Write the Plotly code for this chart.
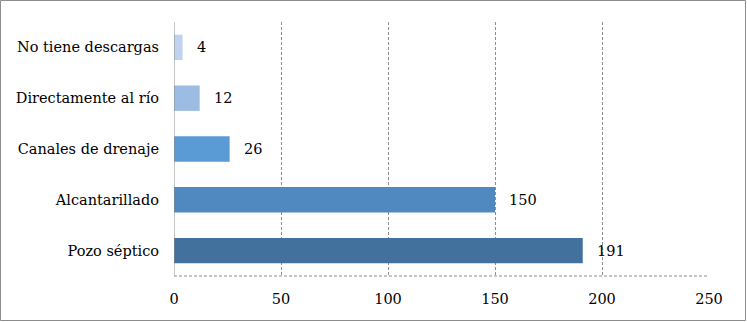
import plotly.graph_objects as go

categories = ["Pozo séptico", "Alcantarillado", "Canales de drenaje", "Directamente al río", "No tiene descargas"]
values = [191, 150, 26, 12, 4]
bar_colors = ["#41719C", "#4F89BF", "#5B9BD5", "#9DBCE3", "#BFD3EE"]
x_ticks = [0, 50, 100, 150, 200, 250]

W, H = 747, 322
ML, MR, MT, MB = 174, 38, 22, 46
PW = W - ML - MR
PH = H - MT - MB
FONT = "DejaVu Serif"
FS = 14.5

fig = go.Figure()
fig.add_trace(go.Bar(
    y=categories, x=values, orientation="h",
    marker=dict(color=bar_colors, line=dict(width=0)),
    hoverinfo="skip",
))

annotations = []
for c, v in zip(categories, values):
    annotations.append(dict(x=v, y=c, xref="x", yref="y", text=str(v), showarrow=False,
                            xanchor="left", xshift=12,
                            font=dict(family=FONT, size=FS, color="#000")))

shapes = [
    dict(type="rect", xref="paper", yref="paper",
         x0=-(ML - 0.5) / PW, x1=(W - ML - 1.5) / PW,
         y0=-(MB - 1.5) / PH, y1=(H - MB - 0.5) / PH,
         line=dict(color="#8C8C8C", width=1)),
    dict(type="line", xref="x", yref="paper", x0=0, x1=250, y0=0, y1=0,
         line=dict(color="#8C8C8C", width=1, dash="3px,2px")),
    dict(type="line", xref="x", yref="paper", x0=0, x1=0, y0=0, y1=1,
         line=dict(color="#8C8C8C", width=1)),
]

fig.update_layout(
    width=W, height=H,
    margin=dict(l=ML, r=MR, t=MT, b=MB, pad=0),
    paper_bgcolor="white", plot_bgcolor="white",
    bargap=0.5, showlegend=False,
    annotations=annotations, shapes=shapes,
    font=dict(family=FONT, size=FS, color="#000"),
    xaxis=dict(range=[0, 250], tickvals=x_ticks, showgrid=True, gridcolor="#8C8C8C",
               griddash="3px,2px", gridwidth=1, zeroline=False, showline=False,
               ticks="", ticklabelstandoff=12, fixedrange=True,
               tickfont=dict(family=FONT, size=FS, color="#000")),
    yaxis=dict(showgrid=False, zeroline=False, showline=False, ticks="",
               ticklabelstandoff=14, fixedrange=True, range=[-0.5, 4.5],
               tickfont=dict(family=FONT, size=FS, color="#000")),
)

fig.write_html("out.html", config={"displayModeBar": False},
               post_script="document.body.style.margin='0';document.body.style.overflow='hidden';")
